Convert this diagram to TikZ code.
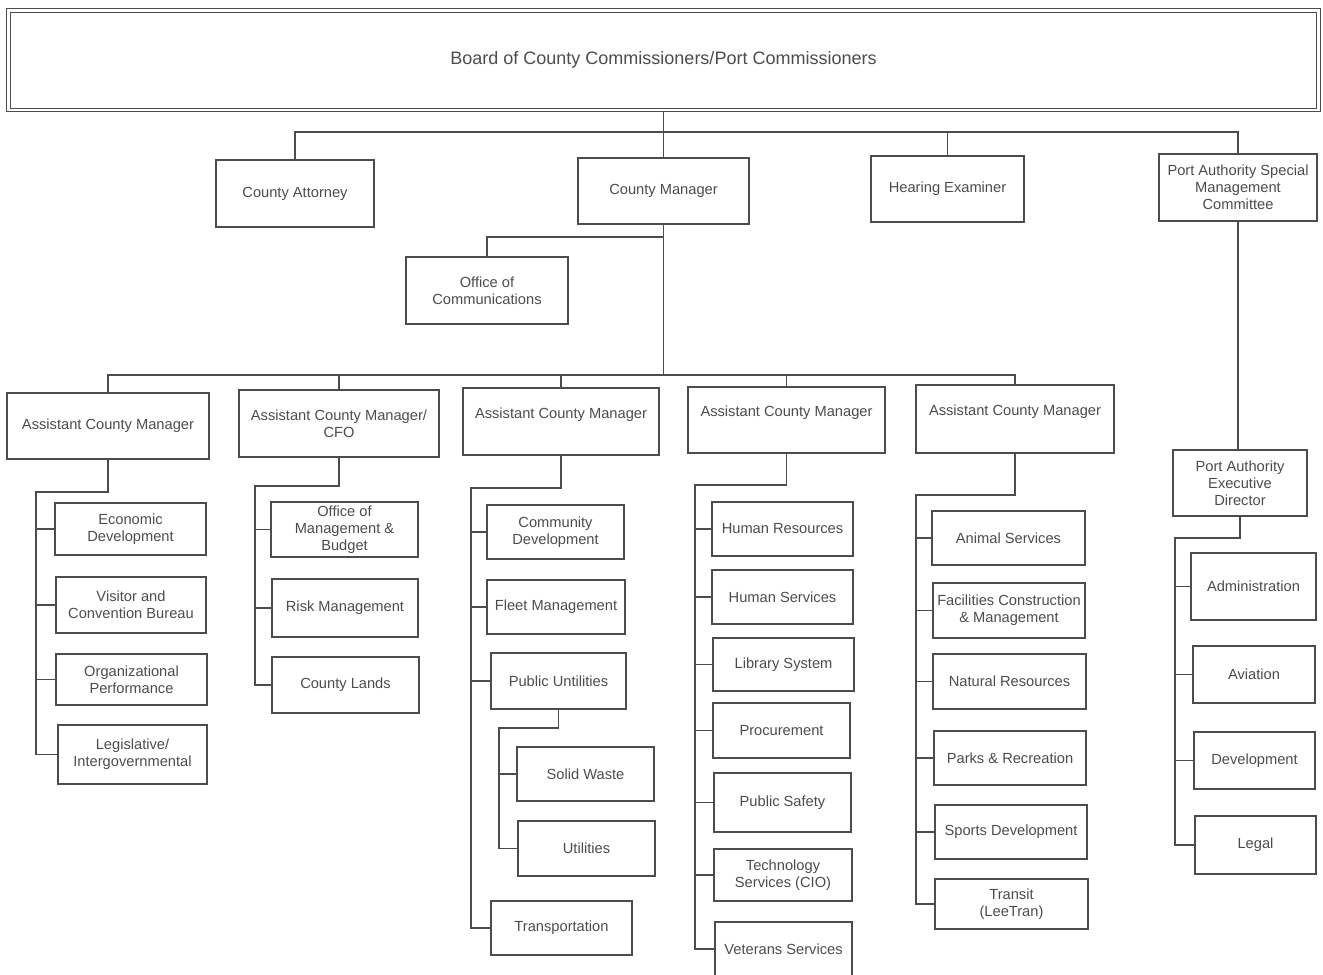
\documentclass[tikz,border=0pt]{standalone}
\usepackage{fontspec}
\setmainfont{Liberation Sans}
\usepackage{xcolor}
\definecolor{ink}{gray}{0.3}

\begin{document}
\begin{tikzpicture}[x=0.75pt, y=-0.75pt, every node/.style={draw=ink, text=ink, line width=1.3pt, align=center, inner sep=1pt, font=\fontsize{11}{12.75}\selectfont}, unit/.style 2 args={minimum width=#1*0.75pt, minimum height=#2*0.75pt}, link/.style={draw=ink, line width=0.9pt}]
\useasboundingbox (0,0) rectangle (1323,974);
% board and first level
\node[double, double distance=1.8pt, line width=0.9pt, unit={1310}{99.5}, font=\fontsize{13.5}{16}\selectfont] (board) at (663.5,60.25) {Board of County Commissioners/Port Commissioners};
\node[unit={158}{67}] (atty) at (295,193.5) {County Attorney};
\node[unit={171}{66}] (cm) at (663.5,191) {County Manager};
\node[unit={153}{66}] (hear) at (947.5,189) {Hearing Examiner};
\node[unit={158}{67}] (pasmc) at (1238,187.5) {Port Authority Special\\Management\\Committee};
\node[unit={162}{67}] (comm) at (487,290.5) {Office of\\Communications};
% assistant county managers
\node[unit={202}{66}] (acmA) at (108,426) {Assistant County Manager};
\node[unit={200}{67}] (acmB) at (339,423.5) {Assistant County Manager/\\CFO};
\node[unit={196}{67}] (acmC) at (561,421.5) {Assistant County Manager\\\mbox{}};
\node[unit={197}{66}] (acmD) at (786.5,420) {Assistant County Manager\\\mbox{}};
\node[unit={198}{68}] (acmE) at (1015,419) {Assistant County Manager\\\mbox{}};
\node[unit={134}{66}] (paed) at (1240,483) {Port Authority\\Executive\\Director};
% departments
\node[unit={151}{52}] (econ) at (130.5,529) {Economic\\Development};
\node[unit={150}{56}] (visit) at (131,605) {Visitor and\\Convention Bureau};
\node[unit={151}{51}] (orgp) at (131.5,679.5) {Organizational\\Performance};
\node[unit={149}{59}] (legis) at (132.5,754.5) {Legislative/\\Intergovernmental};
\node[unit={147}{55}] (omb) at (344.5,529.5) {Office of\\Management \&\\Budget};
\node[unit={146}{58}] (risk) at (345,608) {Risk Management};
\node[unit={147}{56}] (lands) at (345.5,685) {County Lands};
\node[unit={137}{54}] (cdev) at (555.5,532) {Community\\Development};
\node[unit={138}{54}] (fleet) at (556,607) {Fleet Management};
\node[unit={135}{56}] (pubu) at (558.5,681) {Public Untilities};
\node[unit={137}{54}] (solid) at (585.5,774) {Solid Waste};
\node[unit={137}{55}] (utils) at (586.5,848.5) {Utilities};
\node[unit={141}{54}] (trans) at (561.5,928) {Transportation};
\node[unit={141}{54}] (hres) at (782.5,529) {Human Resources};
\node[unit={141}{54}] (hserv) at (782.5,597) {Human Services};
\node[unit={141}{53}] (lib) at (783.5,664.5) {Library System};
\node[unit={137}{55}] (proc) at (781.5,730.5) {Procurement};
\node[unit={137}{59}] (psafe) at (782.5,802.5) {Public Safety};
\node[unit={138}{52}] (tech) at (783,875) {Technology\\Services (CIO)};
\node[unit={137}{54}] (vets) at (783.5,949) {Veterans Services};
\node[unit={153}{54}] (anim) at (1008.5,538) {Animal Services};
\node[unit={152}{55}] (facil) at (1009,610.5) {Facilities Construction\\\& Management};
\node[unit={153}{55}] (nat) at (1009.5,681.5) {Natural Resources};
\node[unit={152}{54}] (parks) at (1010,758) {Parks \& Recreation};
\node[unit={152}{54}] (sports) at (1011,832) {Sports Development};
\node[unit={153}{50}] (transit) at (1011.5,904) {Transit\\(LeeTran)};
\node[unit={125}{67}] (admin) at (1253.5,586.5) {Administration};
\node[unit={122}{57}] (avia) at (1254,674.5) {Aviation};
\node[unit={121}{57}] (devel) at (1254.5,760.5) {Development};
\node[unit={121}{58}] (legal) at (1255.5,845) {Legal};
% upper connectors
\coordinate (busTop) at (663.5,132);
\coordinate (commJ) at (663.5,237);
\coordinate (busMid) at (663.5,375);
\draw[link] (board.south) -- (cm.north);
\draw[link] (atty.north) |- (busTop) -| (pasmc.north);
\draw[link] (hear.north) -- (hear.north |- busTop);
\draw[link] (cm.south) -- (busMid);
\draw[link] (comm.north) |- (commJ);
\draw[link] (acmA.north) |- (busMid) -| (acmE.north);
\foreach \n in {acmB,acmC,acmD} \draw[link] (\n.north) -- (\n.north |- busMid);
\draw[link] (pasmc.south) -- (pasmc.south |- paed.north);
% department connectors
\coordinate (jA) at (36,492);
\coordinate (jB) at (255,486);
\coordinate (jC) at (471,488);
\coordinate (jU) at (499,728);
\coordinate (jD) at (695,485);
\coordinate (jE) at (916,495);
\coordinate (jP) at (1175,538);
\draw[link] (acmA.south) |- (jA) |- (legis.west);
\foreach \n in {econ,visit,orgp} \draw[link] (jA |- \n.west) -- (\n.west);
\draw[link] (acmB.south) |- (jB) |- (lands.west);
\foreach \n in {omb,risk} \draw[link] (jB |- \n.west) -- (\n.west);
\draw[link] (acmC.south) |- (jC) |- (trans.west);
\foreach \n in {cdev,fleet,pubu} \draw[link] (jC |- \n.west) -- (\n.west);
\draw[link] (pubu.south) |- (jU) |- (utils.west);
\draw[link] (jU |- solid.west) -- (solid.west);
\draw[link] (acmD.south) |- (jD) |- (vets.west);
\foreach \n in {hres,hserv,lib,proc,psafe,tech} \draw[link] (jD |- \n.west) -- (\n.west);
\draw[link] (acmE.south) |- (jE) |- (transit.west);
\foreach \n in {anim,facil,nat,parks,sports} \draw[link] (jE |- \n.west) -- (\n.west);
\draw[link] (paed.south) |- (jP) |- (legal.west);
\foreach \n in {admin,avia,devel} \draw[link] (jP |- \n.west) -- (\n.west);
\end{tikzpicture}
\end{document}
